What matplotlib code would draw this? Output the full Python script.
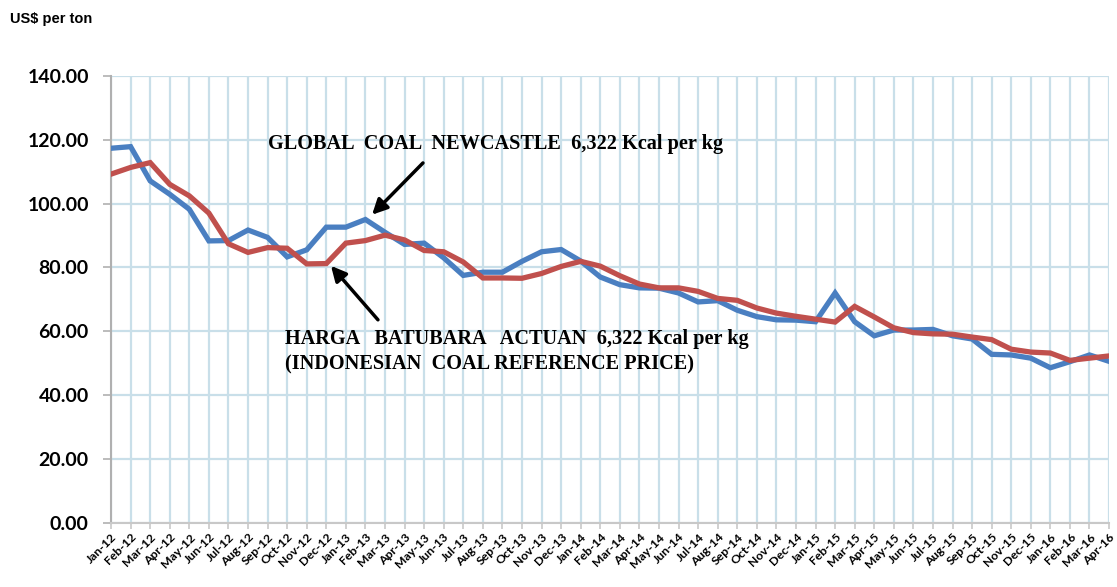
import matplotlib
matplotlib.use("Agg")
import matplotlib.pyplot as plt

months = ["Jan-12","Feb-12","Mar-12","Apr-12","May-12","Jun-12","Jul-12","Aug-12","Sep-12","Oct-12","Nov-12","Dec-12",
          "Jan-13","Feb-13","Mar-13","Apr-13","May-13","Jun-13","Jul-13","Aug-13","Sep-13","Oct-13","Nov-13","Dec-13",
          "Jan-14","Feb-14","Mar-14","Apr-14","May-14","Jun-14","Jul-14","Aug-14","Sep-14","Oct-14","Nov-14","Dec-14",
          "Jan-15","Feb-15","Mar-15","Apr-15","May-15","Jun-15","Jul-15","Aug-15","Sep-15","Oct-15","Nov-15","Dec-15",
          "Jan-16","Feb-16","Mar-16","Apr-16"]

newcastle = [117.3, 117.8, 107.1, 102.9, 98.2, 88.3, 88.4, 91.7, 89.4, 83.3, 85.5, 92.6,
             92.6, 95.0, 91.0, 87.2, 87.6, 83.0, 77.5, 78.5, 78.5, 81.9, 84.9, 85.6,
             82.0, 77.0, 74.6, 73.6, 73.5, 72.0, 69.2, 69.6, 66.6, 64.6, 63.6, 63.5,
             63.0, 72.0, 63.0, 58.6, 60.4, 60.4, 60.6, 58.6, 57.6, 52.8, 52.6, 51.6,
             48.6, 50.5, 52.6, 50.6]

hba = [109.2, 111.3, 112.8, 106.0, 102.4, 97.0, 87.4, 84.7, 86.2, 86.0, 81.1, 81.2,
       87.6, 88.4, 90.1, 88.6, 85.3, 84.9, 81.7, 76.7, 76.7, 76.6, 78.1, 80.3,
       81.9, 80.4, 77.4, 74.8, 73.6, 73.6, 72.5, 70.3, 69.7, 67.3, 65.7, 64.7,
       63.8, 62.9, 67.8, 64.5, 61.1, 59.6, 59.2, 59.1, 58.2, 57.4, 54.4, 53.5,
       53.2, 50.9, 51.6, 52.3]

yticks = [0, 20, 40, 60, 80, 100, 120, 140]

fig = plt.figure(figsize=(11.17, 5.87), dpi=100)
ax = fig.add_axes([0.0994, 0.109, 0.8935, 0.762])

x = list(range(len(months)))
ax.plot(x, newcastle, color="#4a7fc1", lw=3.8, solid_joinstyle="miter", zorder=3)
ax.plot(x, hba, color="#c0504d", lw=3.8, solid_joinstyle="miter", zorder=4)

ax.set_xlim(0, len(months) - 1)
ax.set_ylim(0, 140)
ax.set_yticks(yticks)
ax.set_yticklabels([f"{v:.2f}" for v in yticks], fontfamily="Lato", fontweight="bold", fontsize=14)
ax.set_xticks(x)
ax.set_xticklabels(months, rotation=45, ha="right", rotation_mode="anchor",
                   fontfamily="Lato", fontweight="bold", fontsize=8.8)

ax.grid(True, color="#c9dfe9", lw=1.6)
ax.set_axisbelow(True)
for s in ["top", "right"]:
    ax.spines[s].set_visible(False)
ax.spines["left"].set_color("#b0b0b0")
ax.spines["left"].set_linewidth(1.5)
ax.spines["bottom"].set_color("#c8c8c8")
ax.spines["bottom"].set_linewidth(1.5)
ax.tick_params(axis="y", length=6, color="#b0b0b0", width=1.2, pad=10)
ax.tick_params(axis="x", length=4, color="#c8c8c8", width=1.2, pad=2)

fig.text(0.009, 0.968, "US$ per ton", fontfamily="Liberation Sans", fontweight="bold",
         fontsize=10.5, ha="left", va="center")

ax.annotate("", xy=(13.34, 96.5), xytext=(15.94, 112.7),
            arrowprops=dict(arrowstyle="-|>,head_length=0.9,head_width=0.45", color="black", lw=2.5,
                            shrinkA=0, shrinkB=0))
ax.annotate("", xy=(11.24, 80.5), xytext=(13.64, 63.6),
            arrowprops=dict(arrowstyle="-|>,head_length=0.9,head_width=0.45", color="black", lw=2.5,
                            shrinkA=0, shrinkB=0))

ax.text(8.02, 118.6, "GLOBAL  COAL  NEWCASTLE  6,322 Kcal per kg", fontfamily="Liberation Serif",
        fontweight="bold", fontsize=14.6, ha="left", va="center", zorder=5)
ax.text(8.9, 53.6, "HARGA   BATUBARA   ACTUAN  6,322 Kcal per kg\n(INDONESIAN  COAL REFERENCE PRICE)",
        fontfamily="Liberation Serif", fontweight="bold", fontsize=14.6, ha="left", va="center",
        linespacing=1.4, zorder=5)

fig.savefig("out.png", dpi=100, facecolor="white")
